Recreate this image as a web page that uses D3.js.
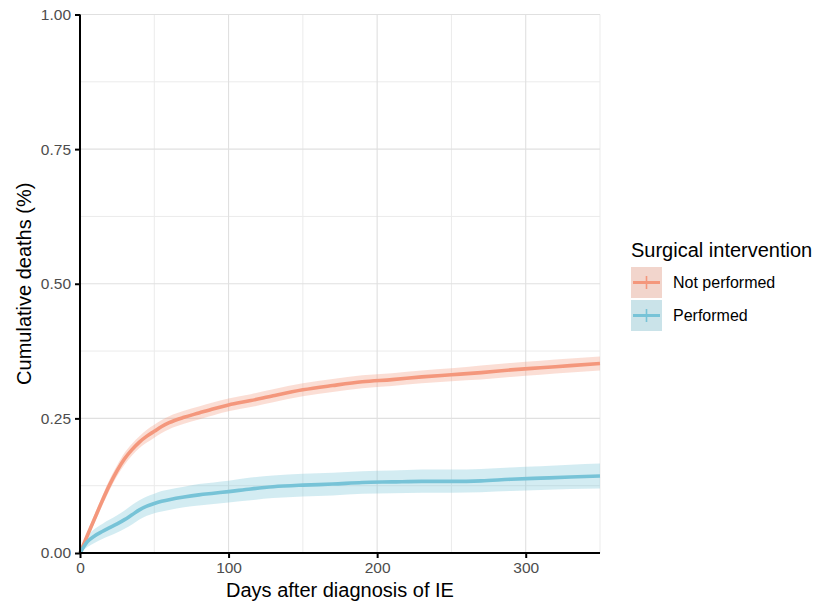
<!DOCTYPE html>
<html>
<head>
<meta charset="utf-8">
<script src="https://cdn.jsdelivr.net/npm/d3@7"></script>
<style>
  html, body { margin: 0; padding: 0; background: #fff; }
  svg { display: block; font-family: "Liberation Sans", Arial, Helvetica, sans-serif; }
</style>
</head>
<body>
<svg id="chart" width="817" height="604"></svg>
<script>
// ---- data ----
const days = [0, 5, 10, 15, 20, 25, 30, 35, 40, 45, 50, 55, 60, 70, 80, 90, 100, 115, 130, 150, 170, 190, 210, 230, 250, 270, 290, 310, 330, 350];

const notPerformed = [0, 0.033, 0.065, 0.097, 0.127, 0.153, 0.175, 0.192, 0.206, 0.217, 0.226, 0.235, 0.242, 0.252, 0.260, 0.268, 0.275, 0.283, 0.292, 0.303, 0.311, 0.318, 0.322, 0.327, 0.331, 0.335, 0.340, 0.344, 0.348, 0.352];
const notPerformedLower = [0, 0.027, 0.057, 0.088, 0.117, 0.143, 0.164, 0.181, 0.195, 0.205, 0.214, 0.223, 0.230, 0.240, 0.248, 0.256, 0.263, 0.271, 0.280, 0.291, 0.299, 0.306, 0.310, 0.315, 0.319, 0.322, 0.327, 0.331, 0.335, 0.339];
const notPerformedUpper = [0, 0.039, 0.073, 0.106, 0.137, 0.163, 0.186, 0.203, 0.217, 0.229, 0.238, 0.247, 0.254, 0.264, 0.272, 0.280, 0.287, 0.295, 0.304, 0.315, 0.323, 0.330, 0.334, 0.339, 0.343, 0.348, 0.353, 0.357, 0.361, 0.365];

const performed = [0, 0.021, 0.032, 0.040, 0.047, 0.054, 0.062, 0.071, 0.080, 0.087, 0.092, 0.096, 0.099, 0.104, 0.108, 0.111, 0.114, 0.119, 0.123, 0.126, 0.128, 0.131, 0.132, 0.133, 0.133, 0.134, 0.137, 0.139, 0.141, 0.143];
const performedLower = [0, 0.011, 0.019, 0.026, 0.032, 0.038, 0.045, 0.053, 0.062, 0.069, 0.074, 0.077, 0.080, 0.085, 0.088, 0.091, 0.094, 0.098, 0.102, 0.105, 0.107, 0.110, 0.111, 0.112, 0.112, 0.113, 0.115, 0.117, 0.119, 0.120];
const performedUpper = [0, 0.031, 0.045, 0.054, 0.062, 0.070, 0.079, 0.089, 0.098, 0.105, 0.110, 0.115, 0.118, 0.123, 0.128, 0.131, 0.134, 0.140, 0.144, 0.147, 0.149, 0.152, 0.153, 0.155, 0.155, 0.156, 0.159, 0.161, 0.164, 0.166];

const xTicks = [0, 100, 200, 300];
const xMinor = [50, 150, 250, 350];
const yTicks = [0, 0.25, 0.5, 0.75, 1.0];
const yMinor = [0.125, 0.375, 0.625, 0.875];

const seriesNames = ["Not performed", "Performed"];
const seriesColors = ["#F4977C", "#77C3D7"];
const legendTitle = "Surgical intervention";
const xTitle = "Days after diagnosis of IE";
const yTitle = "Cumulative deaths (%)";

// ---- layout ----
const svg = d3.select("#chart");
const x = d3.scaleLinear().domain([0, 350]).range([80, 600]);
const y = d3.scaleLinear().domain([0, 1]).range([553, 14.5]);

// grid
const grid = svg.append("g");
grid.selectAll(".ymin").data(yMinor).join("line")
  .attr("x1", x(0)).attr("x2", x(350)).attr("y1", d => y(d)).attr("y2", d => y(d))
  .attr("stroke", "#ebebeb").attr("stroke-width", 1);
grid.selectAll(".xmin").data(xMinor).join("line")
  .attr("y1", y(0)).attr("y2", y(1)).attr("x1", d => x(d)).attr("x2", d => x(d))
  .attr("stroke", "#ebebeb").attr("stroke-width", 1);
grid.selectAll(".ymaj").data(yTicks).join("line")
  .attr("x1", x(0)).attr("x2", x(350)).attr("y1", d => y(d)).attr("y2", d => y(d))
  .attr("stroke", "#e0e0e0").attr("stroke-width", 1.1);
grid.selectAll(".xmaj").data(xTicks).join("line")
  .attr("y1", y(0)).attr("y2", y(1)).attr("x1", d => x(d)).attr("x2", d => x(d))
  .attr("stroke", "#e0e0e0").attr("stroke-width", 1.1);

// series
const series = [
  { name: seriesNames[0], color: seriesColors[0], est: notPerformed, lo: notPerformedLower, hi: notPerformedUpper },
  { name: seriesNames[1], color: seriesColors[1], est: performed, lo: performedLower, hi: performedUpper }
];

const area = d3.area()
  .x(d => x(d.t)).y0(d => y(d.lo)).y1(d => y(d.hi))
  .curve(d3.curveMonotoneX);
const line = d3.line()
  .x(d => x(d.t)).y(d => y(d.v))
  .curve(d3.curveMonotoneX);

series.forEach(s => {
  const pts = days.map((t, i) => ({ t, v: s.est[i], lo: s.lo[i], hi: s.hi[i] }));
  svg.append("path").datum(pts).attr("d", area)
    .attr("fill", s.color).attr("fill-opacity", 0.32);
});
series.forEach(s => {
  const pts = days.map((t, i) => ({ t, v: s.est[i] }));
  svg.append("path").datum(pts).attr("d", line)
    .attr("fill", "none").attr("stroke", s.color).attr("stroke-width", 3.6)
    .attr("stroke-linejoin", "round");
});

// axes
const xAxis = d3.axisBottom(x).tickValues(xTicks).tickFormat(d3.format("d")).tickSize(5).tickPadding(4);
const yAxis = d3.axisLeft(y).tickValues(yTicks).tickFormat(d3.format(".2f")).tickSize(5).tickPadding(4);

const gx = svg.append("g").attr("transform", `translate(0,${y(0)})`).call(xAxis);
const gy = svg.append("g").attr("transform", `translate(${x(0)},0)`).call(yAxis);
[gx, gy].forEach(g => {
  g.select(".domain").attr("stroke", "#000").attr("stroke-width", 2);
  g.selectAll(".tick line").attr("stroke", "#000").attr("stroke-width", 2);
  g.selectAll(".tick text").attr("fill", "#4D4D4D").attr("font-size", "15.5px")
    .attr("font-family", "Liberation Sans, Arial, sans-serif");
});
gx.select(".domain").attr("d", `M${x(0)},0H${x(350)}`);
gy.select(".domain").attr("d", `M0,${y(0)}V${y(1)}`);

// axis titles
svg.append("text").attr("x", (x(0) + x(350)) / 2).attr("y", 597)
  .attr("text-anchor", "middle").attr("font-size", "20px").attr("fill", "#000").text(xTitle);
svg.append("text").attr("transform", `translate(31,${(y(0) + y(1)) / 2}) rotate(-90)`)
  .attr("text-anchor", "middle").attr("font-size", "20px").attr("fill", "#000").text(yTitle);

// legend
const lg = svg.append("g");
lg.append("text").attr("x", 631).attr("y", 257).attr("font-size", "20px").attr("fill", "#000").text(legendTitle);
series.forEach((s, i) => {
  const top = 267 + i * 33;
  const g = lg.append("g");
  g.append("rect").attr("x", 631).attr("y", top).attr("width", 31).attr("height", 31)
    .attr("fill", "#f2f2f2");
  g.append("rect").attr("x", 631).attr("y", top).attr("width", 31).attr("height", 31)
    .attr("fill", s.color).attr("fill-opacity", 0.32);
  g.append("line").attr("x1", 633).attr("x2", 660).attr("y1", top + 15.5).attr("y2", top + 15.5)
    .attr("stroke", s.color).attr("stroke-width", 3);
  g.append("line").attr("x1", 646.5).attr("x2", 646.5).attr("y1", top + 9).attr("y2", top + 22)
    .attr("stroke", s.color).attr("stroke-width", 1.6);
  g.append("text").attr("x", 673).attr("y", top + 15.5).attr("dy", "0.35em")
    .attr("font-size", "16px").attr("fill", "#000").text(s.name);
});
</script>
</body>
</html>
